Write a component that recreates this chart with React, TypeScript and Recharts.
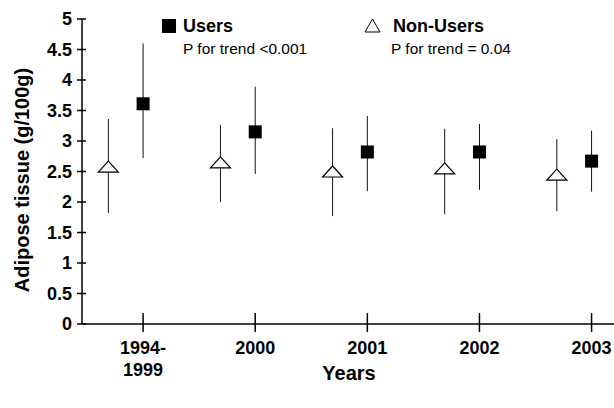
import {
  ScatterChart,
  Scatter,
  XAxis,
  YAxis,
  ErrorBar,
  Customized
} from 'recharts';

const years = ['1994-1999', '2000', '2001', '2002', '2003'];

const usersMean = [3.61, 3.15, 2.82, 2.82, 2.67];
const usersLow = [2.72, 2.46, 2.18, 2.2, 2.17];
const usersHigh = [4.6, 3.89, 3.41, 3.28, 3.17];

const nonUsersMean = [2.58, 2.65, 2.5, 2.55, 2.45];
const nonUsersLow = [1.82, 2.0, 1.77, 1.8, 1.85];
const nonUsersHigh = [3.36, 3.26, 3.21, 3.2, 3.03];

const yTicks = [0, 0.5, 1, 1.5, 2, 2.5, 3, 3.5, 4, 4.5, 5];

const FONT = '"Liberation Sans", Arial, Helvetica, sans-serif';
const NON_USER_SHIFT = -0.31;

const usersData = years.map((y, i) => ({
  x: i,
  y: usersMean[i],
  err: [usersMean[i] - usersLow[i], usersHigh[i] - usersMean[i]]
}));

const nonUsersData = years.map((y, i) => ({
  x: i + NON_USER_SHIFT,
  y: nonUsersMean[i],
  err: [nonUsersMean[i] - nonUsersLow[i], nonUsersHigh[i] - nonUsersMean[i]]
}));

const Square = (props: any) => {
  const { cx, cy } = props;
  return <rect x={cx - 6.5} y={cy - 6.5} width={13} height={13} fill="#000" />;
};

const Triangle = (props: any) => {
  const { cx, cy } = props;
  return (
    <polygon
      points={`${cx},${cy - 5.5} ${cx - 10},${cy + 5.5} ${cx + 10},${cy + 5.5}`}
      fill="#fff"
      stroke="#000"
      strokeWidth={1.2}
    />
  );
};

const YTick = (props: any) => {
  const { x, y, payload } = props;
  return (
    <g>
      <line x1={x - 5} x2={x + 4} y1={y} y2={y} stroke="#000" strokeWidth={1.5} />
      <text x={x - 10} y={y + 6} textAnchor="end" fontFamily={FONT} fontWeight="bold" fontSize={18} fill="#000">
        {payload.value}
      </text>
    </g>
  );
};

const XTick = (props: any) => {
  const { x, y, payload } = props;
  const label = years[Math.round(payload.value)] || '';
  const lines = label.includes('-') ? [label.split('-')[0] + '-', label.split('-')[1]] : [label];
  return (
    <g>
      <line x1={x} x2={x} y1={y - 11} y2={y + 8} stroke="#000" strokeWidth={1.5} />
      {lines.map((t, k) => (
        <text key={k} x={x} y={y + 30 + k * 22} textAnchor="middle" fontFamily={FONT} fontWeight="bold" fontSize={18} fill="#000">
          {t}
        </text>
      ))}
    </g>
  );
};

const Overlay = () => (
  <g fontFamily={FONT} fill="#000">
    <text transform="translate(29,180) rotate(-90)" textAnchor="middle" fontWeight="bold" fontSize={20}>
      Adipose tissue (g/100g)
    </text>
    <text x={349} y={380} textAnchor="middle" fontWeight="bold" fontSize={20}>Years</text>
    <rect x={162} y={19} width={14} height={14} fill="#000" />
    <text x={183} y={32} fontWeight="bold" fontSize={18}>Users</text>
    <text x={183} y={54} fontSize={15.5}>P for trend &lt;0.001</text>
    <polygon points="365,32 372.5,19 380,32" fill="#fff" stroke="#000" strokeWidth={1} />
    <text x={393} y={32} fontWeight="bold" fontSize={18}>Non-Users</text>
    <text x={391} y={54} fontSize={15.5}>P for trend = 0.04</text>
  </g>
);

export default function App() {
  return (
    <div style={{ position: 'absolute', left: 0, top: 0, background: '#fff' }}>
      <ScatterChart width={614} height={408} margin={{ top: 19, right: 0, bottom: 0, left: 0 }}>
        <XAxis
          type="number"
          dataKey="x"
          domain={[-0.545, 4.2]}
          ticks={[0, 1, 2, 3, 4]}
          allowDataOverflow
          height={84}
          tickSize={0}
          tickMargin={0}
          tickLine={false}
          axisLine={{ stroke: '#000', strokeWidth: 1.5 }}
          tick={<XTick />}
          interval={0}
        />
        <YAxis
          type="number"
          dataKey="y"
          domain={[0, 5]}
          ticks={yTicks}
          width={82}
          tickSize={0}
          tickMargin={0}
          tickLine={false}
          axisLine={{ stroke: '#000', strokeWidth: 1.5 }}
          tick={<YTick />}
          interval={0}
        />
        <Scatter data={nonUsersData} shape={<Triangle />} isAnimationActive={false}>
          <ErrorBar dataKey="err" direction="y" width={0} stroke="#111" strokeWidth={1} />
        </Scatter>
        <Scatter data={usersData} shape={<Square />} isAnimationActive={false}>
          <ErrorBar dataKey="err" direction="y" width={0} stroke="#111" strokeWidth={1} />
        </Scatter>
        <Customized component={<Overlay />} />
      </ScatterChart>
    </div>
  );
}
